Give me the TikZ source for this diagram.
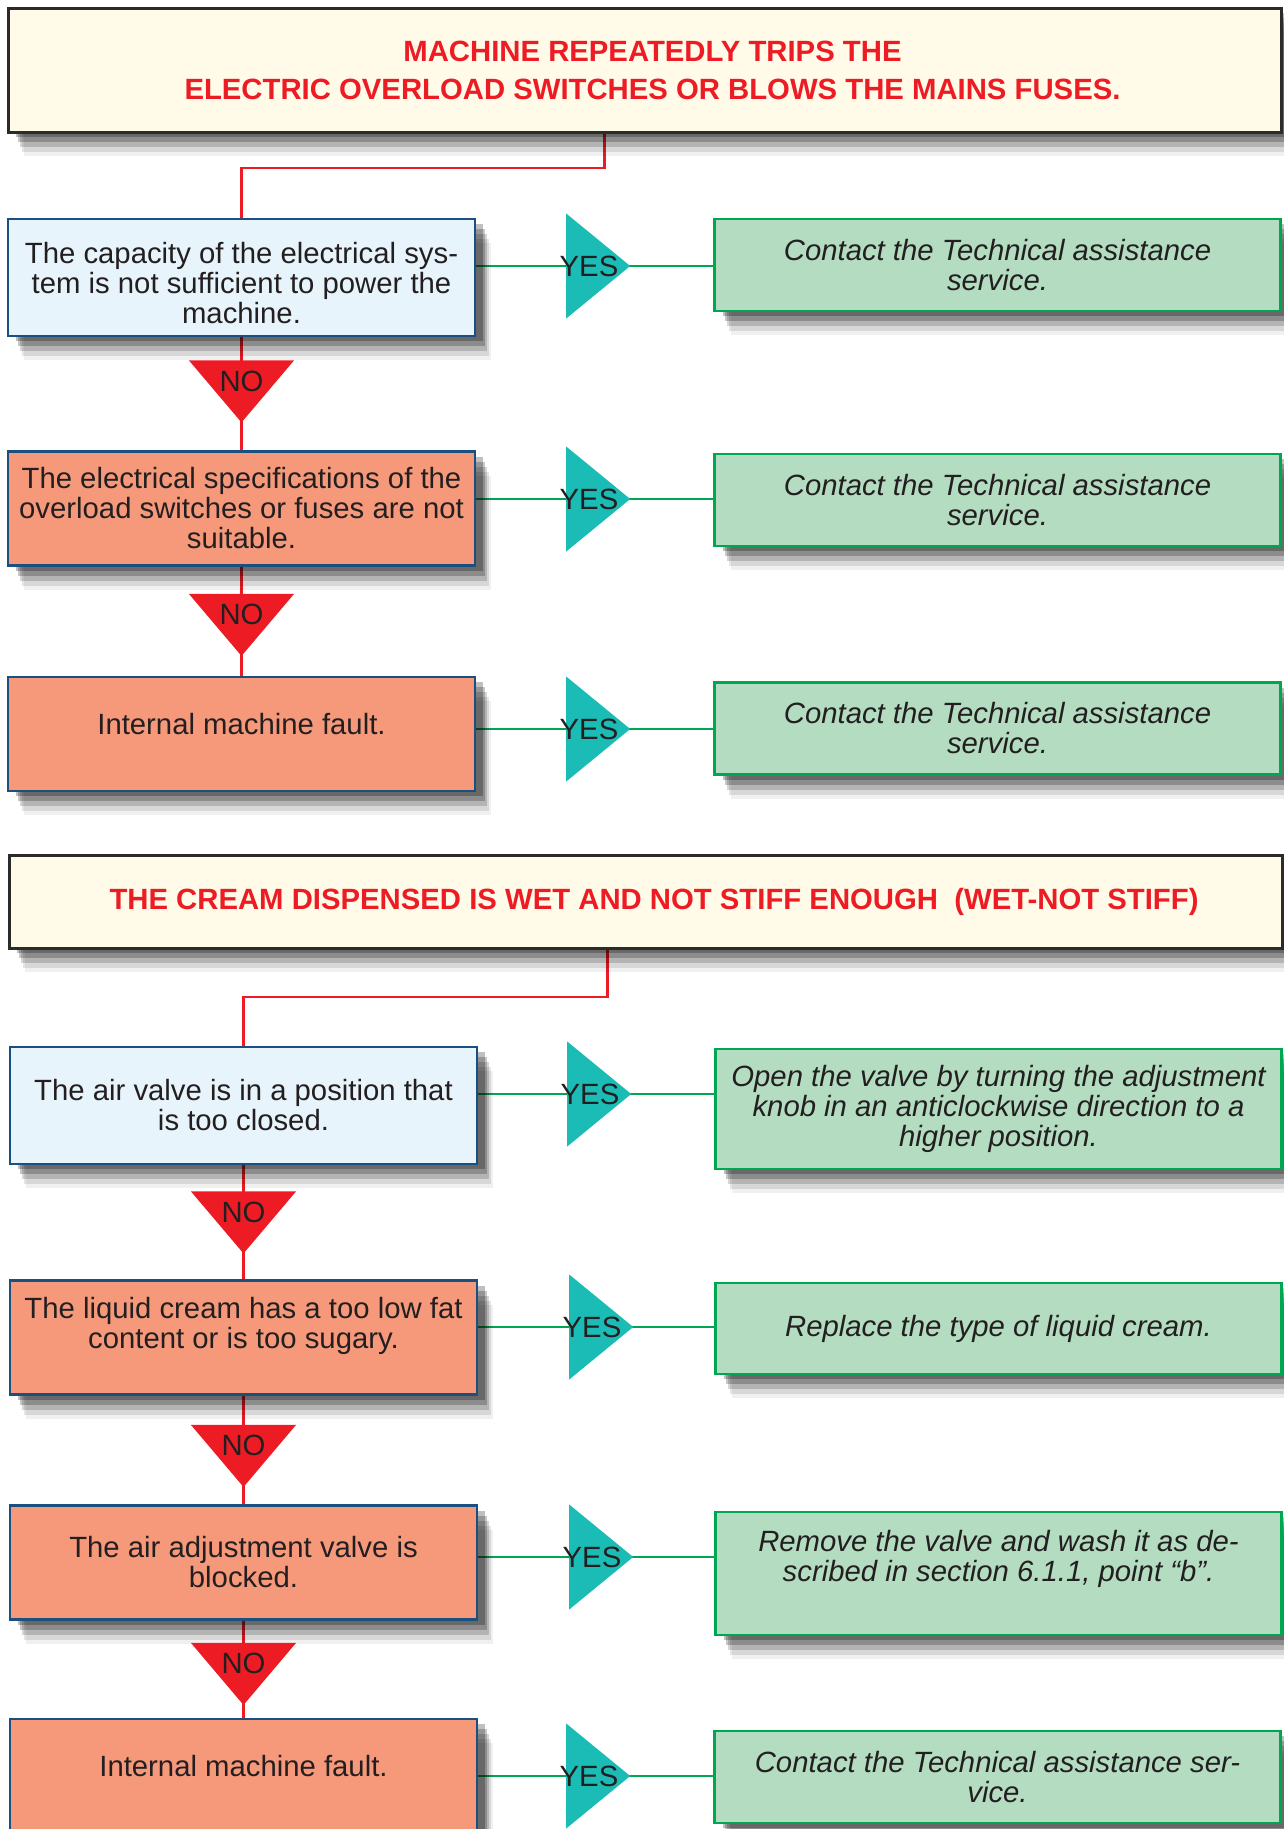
\documentclass[tikz,border=0pt]{standalone}
\usepackage{fontspec}
\setmainfont{Liberation Sans}
\usepackage{tikz}
\usetikzlibrary{shapes.geometric,backgrounds,shadows}
\definecolor{hdrfill}{RGB}{255,251,232}
\definecolor{hdrdraw}{RGB}{43,43,43}
\definecolor{alarmred}{RGB}{237,28,36}
\definecolor{qblue}{RGB}{232,244,251}
\definecolor{qorange}{RGB}{245,153,122}
\definecolor{qdraw}{RGB}{27,79,128}
\definecolor{agreen}{RGB}{179,220,192}
\definecolor{adraw}{RGB}{0,166,81}
\definecolor{yesteal}{RGB}{27,188,181}
\definecolor{txtgray}{RGB}{35,31,32}

\begin{document}
\begin{tikzpicture}[
    x=1pt,y=-1pt,
    font=\fontsize{29.3}{30}\selectfont,
    softshadow/.style={drop shadow={shadow xshift=16pt,shadow yshift=-24pt,opacity=.06,fill=black},
                       drop shadow={shadow xshift=14pt,shadow yshift=-20pt,opacity=.1,fill=black},
                       drop shadow={shadow xshift=12pt,shadow yshift=-15pt,opacity=.16,fill=black},
                       drop shadow={shadow xshift=10pt,shadow yshift=-10pt,opacity=.22,fill=black},
                       drop shadow={shadow xshift=8pt,shadow yshift=-5pt,opacity=.25,fill=black}},
    header/.style={rectangle,draw=hdrdraw,line width=3pt,fill=hdrfill,minimum width=1273pt,text=alarmred,font=\fontsize{29.3}{38}\selectfont\bfseries,align=center,softshadow},
    cause/.style={rectangle,draw=qdraw,line width=2.5pt,minimum width=467pt,minimum height=114pt,text=txtgray,align=center,softshadow},
    remedy/.style={rectangle,draw=adraw,line width=2.5pt,fill=agreen,minimum width=566pt,text=txtgray,font=\fontsize{29.3}{30}\selectfont\itshape,align=center,softshadow},
    yestri/.style={isosceles triangle,isosceles triangle stretches,minimum width=105pt,minimum height=64pt,inner sep=0pt,fill=yesteal,anchor=west},
    notri/.style={isosceles triangle,isosceles triangle stretches,shape border rotate=270,minimum width=105pt,minimum height=62pt,inner sep=0pt,fill=alarmred,anchor=north},
    tag/.style={text=txtgray,inner sep=0pt},
    yesline/.style={draw=adraw,line width=2.5pt},
    noline/.style={draw=alarmred,line width=2.5pt}
]
\useasboundingbox (0,0) rectangle (1283,1829);
\begin{scope}[on background layer]
\fill[white] (0,0) rectangle (1283,1829);
\end{scope}

% first fault
\node[header,minimum height=124pt] (h1) at (644.5,70) {\hspace*{16pt}MACHINE REPEATEDLY TRIPS THE\\\hspace*{16pt}ELECTRIC OVERLOAD SWITCHES OR BLOWS THE MAINS FUSES.};
\node[cause,fill=qblue,minimum height=117pt,text height=93pt] (q1) at (241.5,277.5) {The capacity of the electrical sys-\\tem is not sufficient to power the\\machine.};
\node[cause,fill=qorange] (q2) at (241.5,508.5) {The electrical specifications of the\\overload switches or fuses are not\\suitable.};
\node[cause,fill=qorange,text depth=20pt] (q3) at (241.5,734) {Internal machine fault.};
\node[remedy,minimum height=92pt] (a1) at (997.5,265) {Contact the Technical assistance\\service.};
\node[remedy,minimum height=92pt] (a2) at (997.5,500) {Contact the Technical assistance\\service.};
\node[remedy,minimum height=92pt] (a3) at (997.5,728.5) {Contact the Technical assistance\\service.};
\node[yestri] (y1) at (566,266) {};
\node[yestri] (y2) at (566,499) {};
\node[yestri] (y3) at (566,729) {};
\node[tag] (t1) at ([xshift=23pt]y1.west) {YES};
\node[tag] (t2) at ([xshift=23pt]y2.west) {YES};
\node[tag] (t3) at ([xshift=23pt]y3.west) {YES};
\node[notri] (n1) at ([yshift=-23pt]q1.south) {};
\node[notri] (n2) at ([yshift=-27pt]q2.south) {};
\node[tag] (m1) at ([yshift=-21pt]n1.north) {NO};
\node[tag] (m2) at ([yshift=-21pt]n2.north) {NO};

% second fault
\node[header,minimum height=93pt] (h2) at (645.5,901.5) {\hspace*{17pt}THE CREAM DISPENSED IS WET AND NOT STIFF ENOUGH\ \ (WET-NOT STIFF)};
\node[cause,fill=qblue,minimum height=117pt] (q4) at (243.5,1105.5) {The air valve is in a position that\\is too closed.};
\node[cause,fill=qorange,text depth=30pt] (q5) at (243.5,1337.5) {The liquid cream has a too low fat\\content or is too sugary.};
\node[cause,fill=qorange] (q6) at (243.5,1562.5) {The air adjustment valve is\\blocked.};
\node[cause,fill=qorange,minimum height=115pt,text depth=22pt] (q7) at (243.5,1776.5) {Internal machine fault.};
\node[remedy,minimum height=120pt] (a4) at (998.5,1109) {Open the valve by turning the adjustment\\knob in an anticlockwise direction to a\\higher position.};
\node[remedy,minimum height=91pt] (a5) at (998.5,1328.5) {Replace the type of liquid cream.};
\node[remedy,minimum height=123pt,text depth=36pt] (a6) at (998.5,1573.5) {Remove the valve and wash it as de-\\scribed in section 6.1.1, point “b”.};
\node[remedy,minimum height=92pt] (a7) at (997.5,1777) {Contact the Technical assistance ser-\\vice.};
\node[yestri] (y4) at (567,1094) {};
\node[yestri] (y5) at (569,1327) {};
\node[yestri] (y6) at (569,1557) {};
\node[yestri] (y7) at (566,1776) {};
\node[tag] (t4) at ([xshift=23pt]y4.west) {YES};
\node[tag] (t5) at ([xshift=23pt]y5.west) {YES};
\node[tag] (t6) at ([xshift=23pt]y6.west) {YES};
\node[tag] (t7) at ([xshift=23pt]y7.west) {YES};
\node[notri] (n3) at ([yshift=-26pt]q4.south) {};
\node[notri] (n4) at ([yshift=-29pt]q5.south) {};
\node[notri] (n5) at ([yshift=-22pt]q6.south) {};
\node[tag] (m3) at ([yshift=-21pt]n3.north) {NO};
\node[tag] (m4) at ([yshift=-21pt]n4.north) {NO};
\node[tag] (m5) at ([yshift=-21pt]n5.north) {NO};

% connectors behind the shadows
\begin{scope}[on background layer]
\draw[noline] ([xshift=-40pt]h1.south) |- ([yshift=50pt]q1.north) -- (q1.north);
\draw[noline] (q1.south) -- (q2.north);
\draw[noline] (q2.south) -- (q3.north);
\draw[noline] ([xshift=-38pt]h2.south) |- ([yshift=49pt]q4.north) -- (q4.north);
\draw[noline] (q4.south) -- (q5.north);
\draw[noline] (q5.south) -- (q6.north);
\draw[noline] (q6.south) -- (q7.north);
\draw[yesline] (y1 -| q1.east) -- (y1 -| a1.west);
\draw[yesline] (y2 -| q2.east) -- (y2 -| a2.west);
\draw[yesline] (y3 -| q3.east) -- (y3 -| a3.west);
\draw[yesline] (y4 -| q4.east) -- (y4 -| a4.west);
\draw[yesline] (y5 -| q5.east) -- (y5 -| a5.west);
\draw[yesline] (y6 -| q6.east) -- (y6 -| a6.west);
\draw[yesline] (y7 -| q7.east) -- (y7 -| a7.west);
\end{scope}
\end{tikzpicture}
\end{document}
